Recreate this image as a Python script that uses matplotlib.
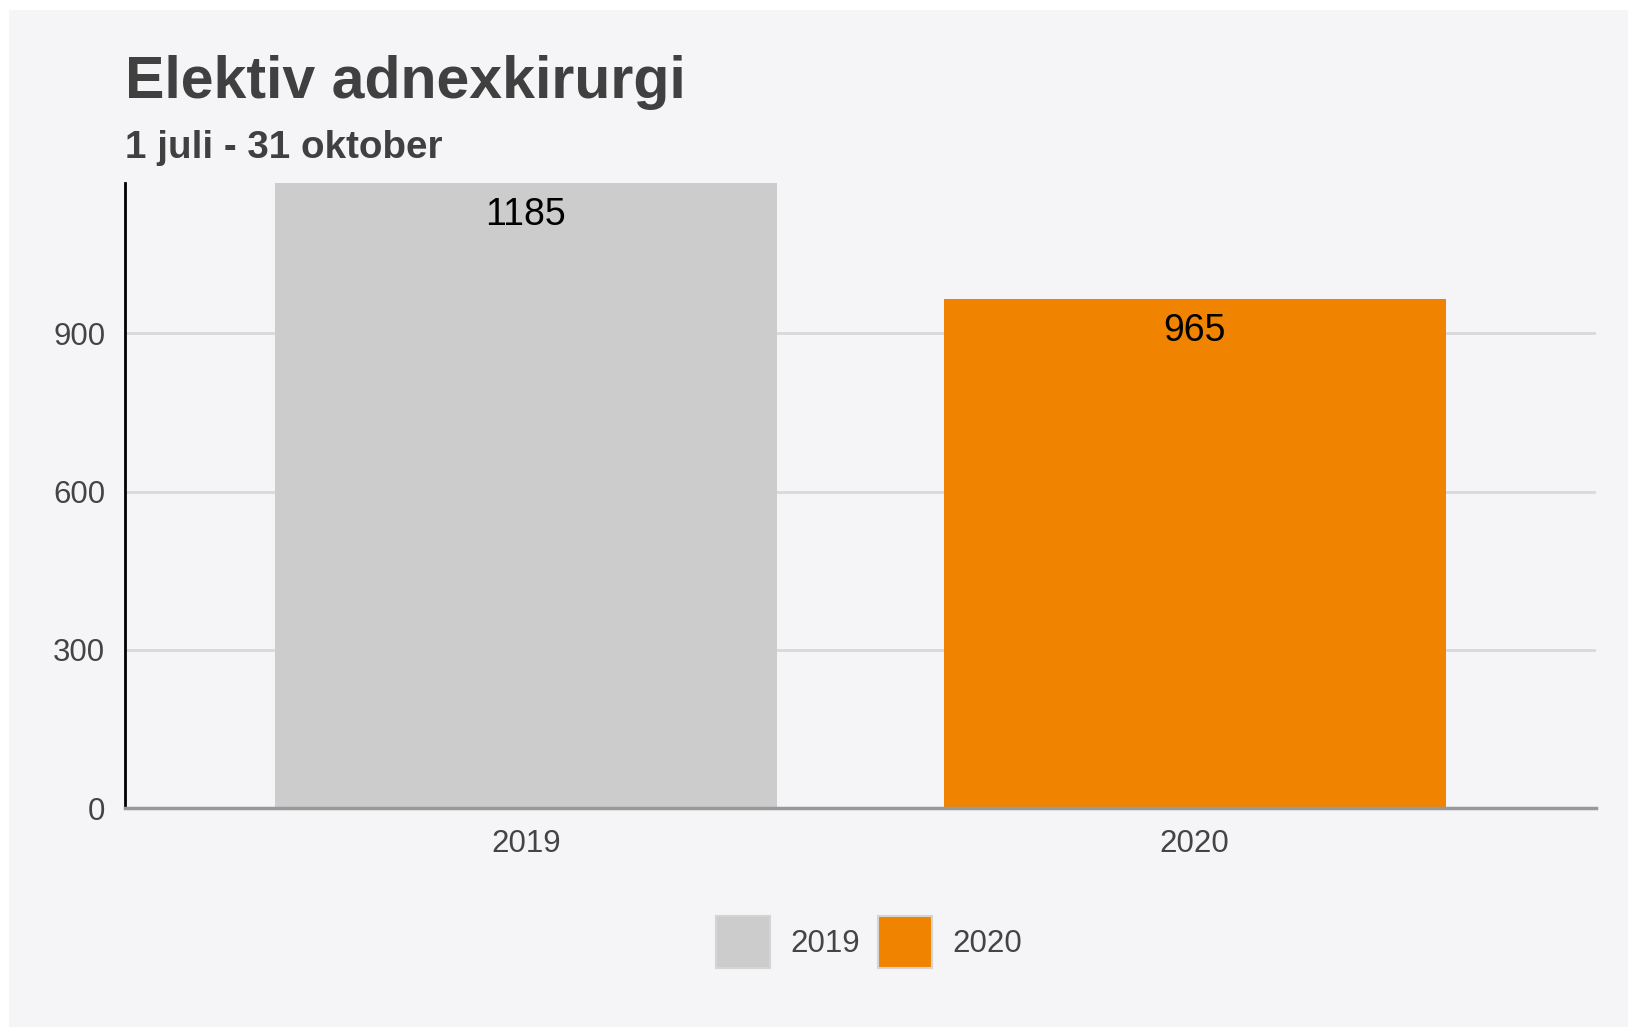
import matplotlib
matplotlib.use("Agg")
import matplotlib.pyplot as plt
from matplotlib.patches import Rectangle, Patch

plt.rcParams["font.family"] = ["Liberation Sans", "DejaVu Sans"]

years = ["2019", "2020"]
values = [1185, 965]
bar_colors = ["#cccccc", "#f08300"]
y_ticks = [0, 300, 600, 900]

title = "Elektiv adnexkirurgi"
subtitle = "1 juli - 31 oktober"

W, H = 1628, 1027
bg = "#f5f4f7"
text_color = "#444444"

fig = plt.figure(figsize=(W / 100, H / 100), dpi=100)
fig.patch.set_facecolor("white")
fig.patches.append(Rectangle((9 / W, 0), 1, 1 - 10 / H, transform=fig.transFigure,
                             facecolor=bg, edgecolor="none", zorder=-10))

ax = fig.add_axes([124.6 / W, (H - 808) / H, (1596 - 124.6) / W, (808 - 183) / H])
ax.patch.set_alpha(0)

x = range(len(years))
ax.bar(x, values, width=0.75, color=bar_colors, zorder=2)
for xi, v in zip(x, values):
    ax.annotate(str(v), (xi, v), xytext=(0, -32), textcoords="offset pixels",
                ha="center", va="center", fontsize=27, color="black", zorder=3)

ax.set_xlim(-0.6, 1.6)
ax.set_ylim(0, 1185)
ax.set_yticks(y_ticks)
ax.set_xticks(list(x))
ax.set_xticklabels(years)
ax.tick_params(axis="both", length=0, labelsize=22.5, labelcolor=text_color)
ax.tick_params(axis="y", pad=14)
ax.tick_params(axis="x", pad=15)
ax.grid(axis="y", color="#d9d9d9", linewidth=2, zorder=1)
ax.set_axisbelow(True)

for s in ["top", "right"]:
    ax.spines[s].set_visible(False)
ax.spines["left"].set_color("black")
ax.spines["left"].set_linewidth(2)
ax.spines["bottom"].set_color("#999999")
ax.spines["bottom"].set_linewidth(2.5)

fig.text(125 / W, 1 - 98 / H, title, fontsize=42.5, fontweight="bold",
         color="#404040", va="baseline", ha="left")
fig.text(125 / W, 1 - 158 / H, subtitle, fontsize=27.8, fontweight="bold",
         color="#404040", va="baseline", ha="left")

handles = [Patch(facecolor=c, edgecolor="#d4d4d4", linewidth=1.5, label=y)
           for c, y in zip(bar_colors, years)]
fig.legend(handles=handles, loc="center", bbox_to_anchor=(869 / W, 1 - 942 / H),
           ncol=2, frameon=False, fontsize=22.5, labelcolor=text_color,
           handlelength=1.75, handleheight=2.15, handletextpad=0.65,
           columnspacing=0.55)

fig.savefig("out.png", dpi=100, facecolor=fig.get_facecolor())
